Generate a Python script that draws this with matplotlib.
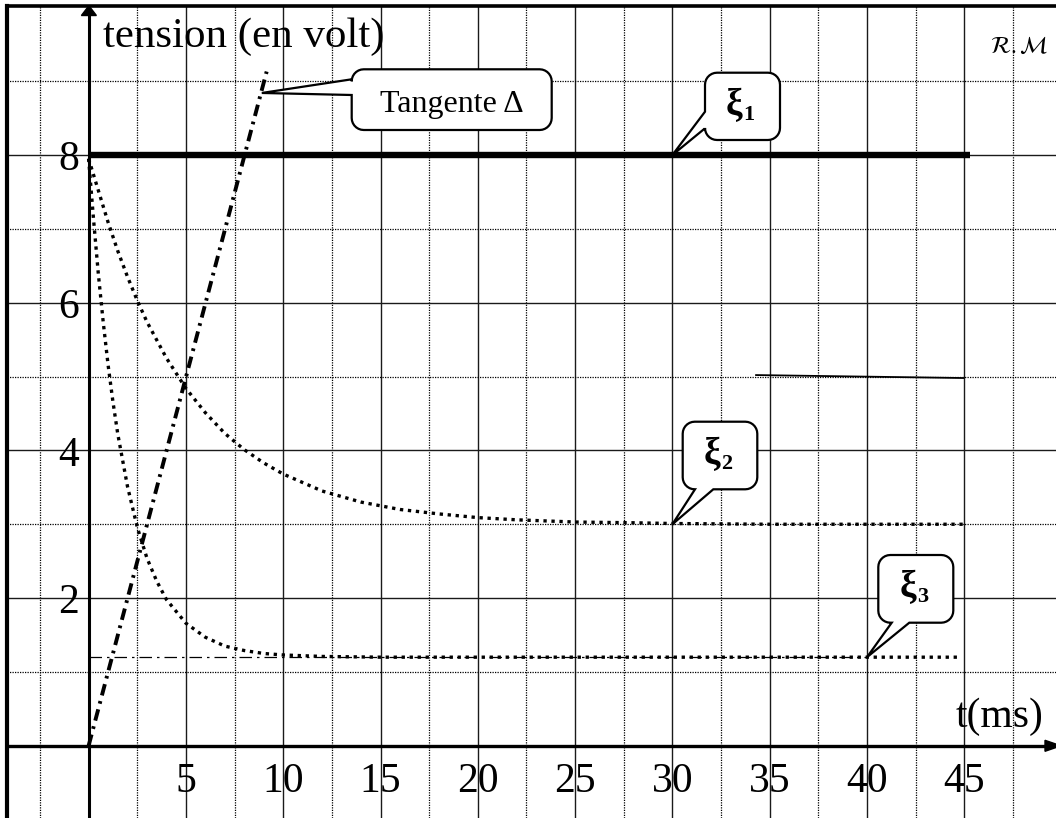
import matplotlib
matplotlib.use('Agg')
import matplotlib.pyplot as plt
from matplotlib.patches import Polygon
import numpy as np

plt.rcParams['font.family'] = ['Liberation Serif', 'DejaVu Serif']
plt.rcParams['mathtext.fontset'] = 'stix'

# ---------------- data ----------------
t_xi1 = [0, 45.3]
v_xi1 = [8, 8]

t_tan = [0, 9.15]
v_tan = [0, 9.13]

t_xi2 = [0, 0.5, 1, 1.5, 2, 2.5, 3, 4, 5, 6, 7, 8, 9, 10, 12, 14, 16, 18, 20,
         22, 25, 28, 30, 35, 40, 45]
v_xi2 = [7.95, 7.52, 7.09, 6.70, 6.35, 6.03, 5.74, 5.25, 4.84, 4.51, 4.23, 4.01,
         3.83, 3.68, 3.45, 3.30, 3.20, 3.14, 3.09, 3.06, 3.03, 3.02, 3.01, 3.0,
         3.0, 3.0]

t_xi3 = [0, 0.25, 0.5, 0.75, 1, 1.25, 1.5, 2, 2.5, 3, 3.5, 4, 5, 6, 7, 8, 9,
         10, 12, 15, 20, 25, 30, 35, 40, 44.8]
v_xi3 = [7.95, 7.14, 6.39, 5.74, 5.16, 4.66, 4.22, 3.51, 2.96, 2.54, 2.23, 1.98,
         1.66, 1.47, 1.35, 1.29, 1.25, 1.23, 1.21, 1.2, 1.2, 1.2, 1.2, 1.2,
         1.2, 1.2]

t_asym3 = [0, 40]
v_asym3 = [1.2, 1.2]

t_mark = [34.3, 44.95]
v_mark = [5.02, 4.98]

x_major = [5, 10, 15, 20, 25, 30, 35, 40, 45]
x_minor = [-2.5, 2.5, 7.5, 12.5, 17.5, 22.5, 27.5, 32.5, 37.5, 42.5, 47.5]
y_major = [2, 4, 6, 8]
y_minor = [1, 3, 5, 7, 9]
x_labels = ['5', '10', '15', '20', '25', '30', '35', '40', '45']
y_labels = ['2', '4', '6', '8']

# ---------------- layout ----------------
W, H = 1056, 818
X0PX, SX = 88.6, 19.46
Y0PX, SY = 745.8, 73.85


def dx(px):
    return (px - X0PX) / SX


def dy(py):
    return (Y0PX - py) / SY


def px_of(t):
    return X0PX + SX * t


def py_of(v):
    return Y0PX - SY * v


fig = plt.figure(figsize=(W / 100, H / 100), dpi=100)
ax = fig.add_axes([7 / W, 0, 1 - 7 / W, 1 - 5.5 / H])
ax.set_xlim(dx(7), dx(W))
ax.set_ylim(dy(H), dy(5.5))

for s in ['right', 'bottom']:
    ax.spines[s].set_visible(False)
ax.spines['left'].set_linewidth(3.0)
ax.spines['top'].set_linewidth(2.6)

ax.set_xticks(x_major)
ax.set_xticks(x_minor, minor=True)
ax.set_yticks(y_major)
ax.set_yticks(y_minor, minor=True)
ax.tick_params(which='both', length=0, labelbottom=False, labelleft=False)
ax.set_axisbelow(True)
ax.grid(which='major', color='#1a1a1a', lw=1.0)
ax.grid(which='minor', color='#000000', lw=0.9, ls=(0, (1, 1)))

# axes with arrows
ax.plot([0, 0], [dy(H + 5), dy(12)], color='black', lw=2.2, zorder=4,
        solid_capstyle='butt')
ax.add_patch(Polygon([(dx(88.9), dy(5.7)), (dx(81.4), dy(15.5)),
                      (dx(96.4), dy(15.5))], closed=True, color='black',
                     zorder=4, clip_on=False))
ax.plot([dx(5), dx(1048)], [0, 0], color='black', lw=2.4, zorder=4,
        solid_capstyle='butt')
ax.add_patch(Polygon([(dx(1061), 0), (dx(1045), dy(Y0PX - 5.5)),
                      (dx(1045), dy(Y0PX + 5.5))], closed=True, color='black',
                     zorder=4, clip_on=False))

# curves
ax.plot(t_xi1, v_xi1, color='black', lw=4.6, solid_capstyle='butt', zorder=3)
ax.plot(t_tan, v_tan, color='black', lw=2.8, ls=(0, (3, 1.5, 0.7, 1.5)),
        zorder=3)
ax.plot(t_asym3, v_asym3, color='black', lw=0.9, ls=(0, (10, 4, 2, 4)),
        zorder=3)
ax.plot(t_xi2, v_xi2, color='black', lw=2.4, ls=(0, (1, 1.4)), zorder=3)
ax.plot(t_xi3, v_xi3, color='black', lw=2.4, ls=(0, (1, 1.4)), zorder=3)
ax.plot(t_mark, v_mark, color='black', lw=1.3, zorder=3)

# tick labels
for v, lab in zip(x_major, x_labels):
    ax.text(v, dy(792), lab, ha='center', va='baseline', fontsize=30,
            zorder=6)
for v, lab in zip(y_major, y_labels):
    ax.text(dx(68.5), dy(py_of(v) + 15.3), lab, ha='center', va='baseline',
            fontsize=30, zorder=6)

ax.text(dx(103), dy(47), 'tension (en volt)', ha='left', va='baseline',
        fontsize=31, zorder=6)
ax.text(dx(956), dy(727), 't(ms)', ha='left', va='baseline', fontsize=30,
        zorder=6)
ax.text(dx(990), dy(53), r'$\mathcal{R}.\mathcal{M}$', ha='left',
        va='baseline', fontsize=17, zorder=6)


# callouts
def callout(x0, y0, x1, y1, side, a, b, tip, r=12, n=8):
    tx, ty = px_of(tip[0]), py_of(tip[1])
    pts = []

    def arc(cx, cy, th0, th1):
        for th in np.linspace(np.radians(th0), np.radians(th1), n):
            pts.append((cx + r * np.cos(th), cy + r * np.sin(th)))

    arc(x1 - r, y0 + r, -90, 0)
    arc(x1 - r, y1 - r, 0, 90)
    if side == 'bottom':
        pts.extend([(b, y1), (tx, ty), (a, y1)])
    arc(x0 + r, y1 - r, 90, 180)
    if side == 'left':
        pts.extend([(x0, b), (tx, ty), (x0, a)])
    arc(x0 + r, y0 + r, 180, 270)
    verts = [(dx(p[0]), dy(p[1])) for p in pts]
    ax.add_patch(Polygon(verts, closed=True, facecolor='white',
                         edgecolor='black', lw=1.6, zorder=5,
                         joinstyle='miter'))


callout(351.7, 69.3, 551.7, 130, 'left', 79.3, 95, (8.9, 8.84))
callout(705, 72.7, 780, 140, 'left', 111.7, 128.3, (30, 8))
callout(682.7, 421.7, 757.3, 489.3, 'bottom', 695, 713.3, (30, 3))
callout(878.3, 555, 953.3, 622.7, 'bottom', 891.7, 909.3, (40, 1.2))

ax.text(dx(451.7), dy(111.7), 'Tangente Δ', ha='center', va='baseline',
        fontsize=23, zorder=6)

for (bx, by, sub) in [(705, 72.7, '1'), (682.7, 421.7, '2'),
                      (878.3, 555, '3')]:
    ax.text(dx(bx + 21), dy(by + 42), 'ξ', ha='left', va='baseline',
            fontsize=27, fontweight='bold', zorder=6)
    ax.text(dx(bx + 38.5), dy(by + 47), sub, ha='left', va='baseline',
            fontsize=16, fontweight='bold', zorder=6)

fig.savefig('out.png', dpi=100)
